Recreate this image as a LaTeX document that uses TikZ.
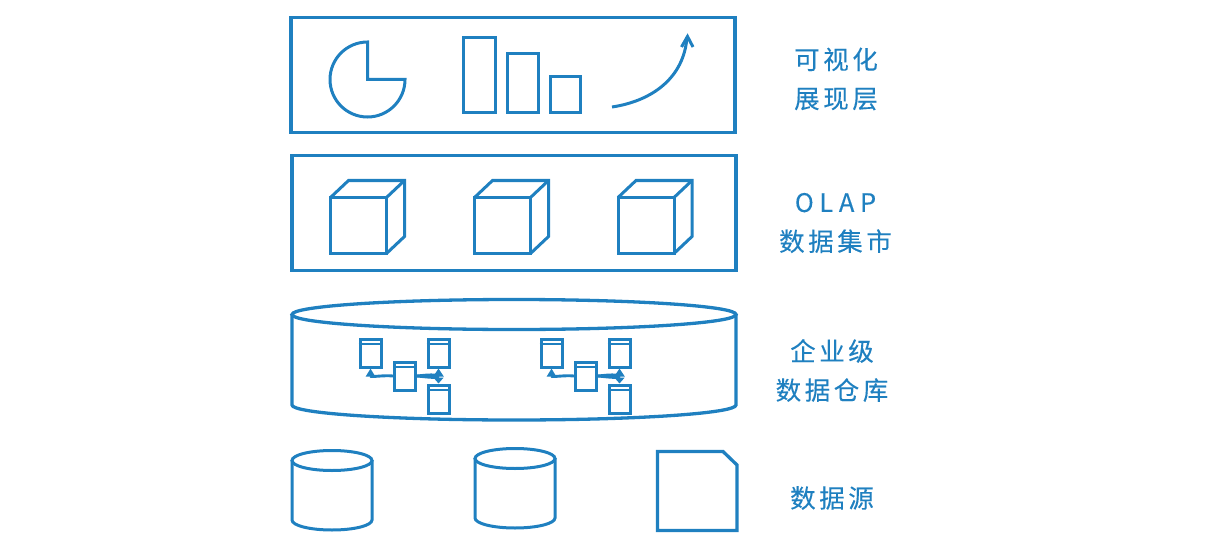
\documentclass[tikz,border=0pt]{standalone}
\usepackage{fontspec}
\usetikzlibrary{arrows.meta}
\newfontfamily\cjk[LetterSpace=14,FakeBold=0.15]{Noto Sans CJK SC}
\definecolor{lineblue}{HTML}{1F80C0}
\tikzset{
  thick line/.style={draw=lineblue,line width=3.3pt,line join=miter},
  mid line/.style={draw=lineblue,line width=3pt,line join=miter},
  thin line/.style={draw=lineblue,line width=2.9pt},
  labeltext/.style={text=lineblue,font=\fontsize{25.5}{39}\cjk,align=center,inner sep=0pt},
  tbl/.style={draw=lineblue,line width=3pt,rectangle,inner sep=0pt,minimum width=21pt,minimum height=28pt},
}
\newcommand{\cube}[2]{%
 \draw[mid line] (#1,#2) rectangle ++(56,56);
 \draw[mid line] (#1,#2) -- ++(18,-17) -- ++(56,0) -- ++(0,56) -- ++(-18,17);
 \draw[mid line] (#1+56,#2) -- ++(18,-17);
}
\newcommand{\tblgroup}[2]{%
 \node[tbl] (#1a) at (#2+10.5,353) {};
 \node[tbl] (#1b) at (#2+45,376) {};
 \node[tbl] (#1c) at (#2+78.5,353) {};
 \node[tbl] (#1d) at (#2+78.5,399) {};
 \foreach \n in {a,b,c,d} \draw[thin line] ([yshift=-6.5pt]#1\n.north west) -- ([yshift=-6.5pt]#1\n.north east);
 \draw[thin line,-{Triangle[length=8pt,width=9pt]}] (#1b.west) .. controls +(-10,-1) and +(0,9) .. (#1a.south);
 \draw[thin line,-{Triangle[length=8pt,width=10pt]}] (#1b.east) .. controls +(10,1) and +(0,10) .. (#1c.south);
 \draw[thin line,-{Triangle[length=6pt,width=10pt]}] (#1b.east) .. controls +(10,-1) and +(0,-10) .. (#1d.north);
}
\begin{document}
\begin{tikzpicture}[x=1pt,y=-1pt]
\useasboundingbox (0,0) rectangle (1222,548);
% layer 1
\node[thick line,rectangle,inner sep=0pt,minimum width=444pt,minimum height=115pt] (vis) at (513,75) {};
\draw[mid line] (367.5,42) arc[start angle=270,end angle=0,radius=37.5] -- (367.5,79.5) -- cycle;
\node[mid line,rectangle,inner sep=0pt,minimum width=32pt,minimum height=75pt] (bar1) at (479,75.5) {};
\node[mid line,rectangle,inner sep=0pt,minimum width=31pt,minimum height=59pt] (bar2) at (522.5,83.5) {};
\node[mid line,rectangle,inner sep=0pt,minimum width=30pt,minimum height=36pt] (bar3) at (565,95) {};
\coordinate (curveS) at (612,107);
\coordinate (curveE) at (687,37);
\draw[mid line,line cap=butt] (curveS) .. controls (652,101) and (684,78) .. (curveE);
\draw[mid line] (681.5,47) -- (687.5,36.5) -- (693,47);
\node[labeltext] (l1) at (836,79) {可视化\\展现层};
% layer 2
\node[thick line,rectangle,inner sep=0pt,minimum width=444pt,minimum height=115pt] (olap) at (514,213) {};
\cube{330.5}{197.5}
\cube{474.5}{197.5}
\cube{618}{197.5}
\node[labeltext] (l2) at (835.5,223) {{\addfontfeature{LetterSpace=22}OLAP}\\数据集市};
% layer 3
\draw[thick line] (292,314.5) -- (292,405) arc[start angle=180,end angle=0,x radius=222,y radius=15] -- (736,314.5);
\draw[thick line] (514,314.5) ellipse[x radius=222,y radius=15];
\tblgroup{g}{360}
\tblgroup{h}{541}
\node[labeltext] (l3) at (832,370.5) {企业级\\数据仓库};
% layer 4
\draw[mid line] (292,460) -- (292,520) arc[start angle=180,end angle=0,x radius=40,y radius=10] -- (372,460);
\draw[mid line] (332,460.5) ellipse[x radius=40,y radius=10];
\draw[mid line] (475,458) -- (475,518) arc[start angle=180,end angle=0,x radius=40,y radius=10] -- (555,458);
\draw[mid line] (515,458.5) ellipse[x radius=40,y radius=10];
\draw[thick line] (657.5,451.5) -- (723,451.5) -- (737,465) -- (737,530.5) -- (657.5,530.5) -- cycle;
\node[labeltext] (l4) at (832,498) {数据源};
\end{tikzpicture}
\end{document}
